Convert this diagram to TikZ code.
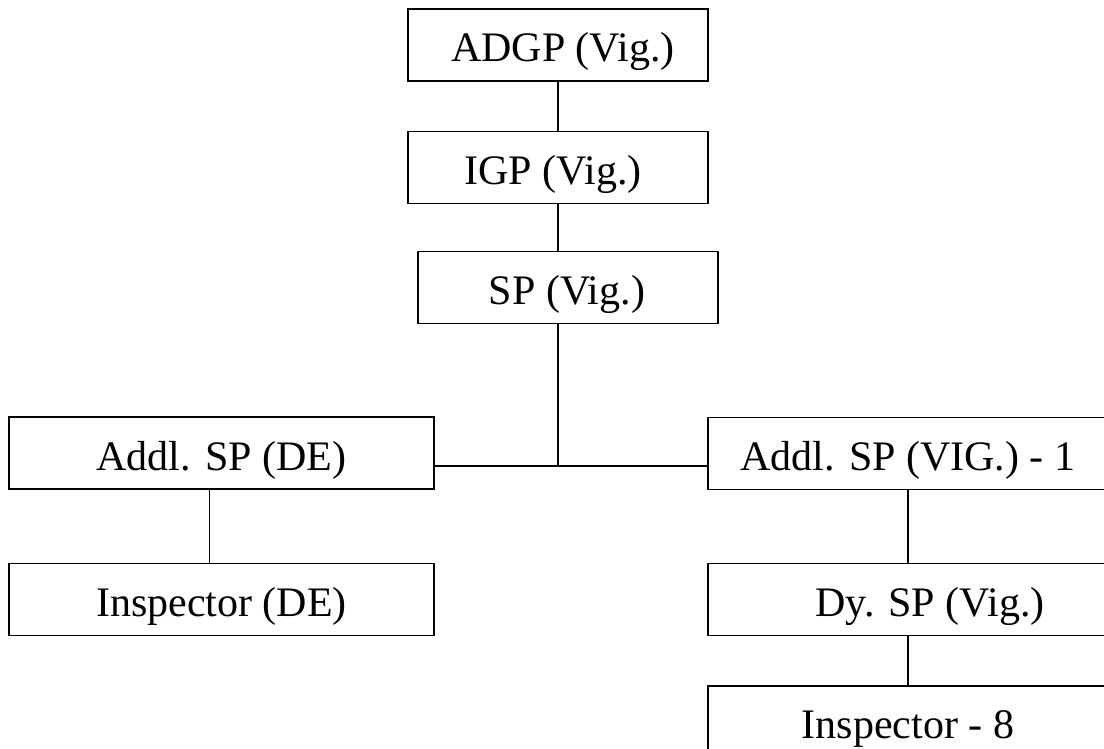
\documentclass[tikz,border=0pt]{standalone}
\usepackage{fontspec}
\setmainfont{Liberation Serif}
\usetikzlibrary{positioning}

\begin{document}
\begin{tikzpicture}[x=1pt,y=-1pt,line width=1.2pt,
	pbox/.style={rectangle,draw=black,line width=1.2pt,inner sep=0pt,minimum height=72pt,text height=36pt,text depth=2pt,font=\fontsize{42}{50}\selectfont}]
	\useasboundingbox (0,0) rectangle (1104,749);
	\clip (0,0) rectangle (1104,749);
	\node[pbox,minimum width=300pt] (adgp) at (558,45) {\hspace*{10pt}ADGP (Vig.)};
	\node[pbox,minimum width=300pt] (igp) [below = 49pt of adgp] {IGP (Vig.)\hspace*{10pt}};
	\node[pbox,minimum width=300pt] (sp) [below = 47pt of igp, xshift=10pt] {SP (Vig.)\hspace*{2pt}};
	\node[pbox,minimum width=425pt] (addlde) at (221.5,453) {Addl. SP (DE)};
	\node[pbox,minimum width=425pt] (inspde) [below = 73pt of addlde] {Inspector (DE)};
	\node[pbox,minimum width=400pt] (addlvig) at (908,453.5) {Addl. SP (VIG.) - 1};
	\node[pbox,minimum width=400pt] (dysp) [below = 73pt of addlvig] {\hspace*{44pt}Dy. SP (Vig.)};
	\node[pbox,minimum width=400pt] (insp8) [below = 49pt of dysp] {Inspector - 8};
	\coordinate (jn) at (558,466);
	\draw (adgp.south) -- (igp.north);
	\draw (igp.south) -- (igp.south |- sp.north);
	\draw (sp.south -| jn) -- (jn);
	\draw (addlde.east |- jn) -- (addlvig.west |- jn);
	\draw ([xshift=-12pt]addlde.south) -- ([xshift=-12pt]inspde.north);
	\draw (addlvig.south) -- (dysp.north);
	\draw (dysp.south) -- (insp8.north);
\end{tikzpicture}
\end{document}
